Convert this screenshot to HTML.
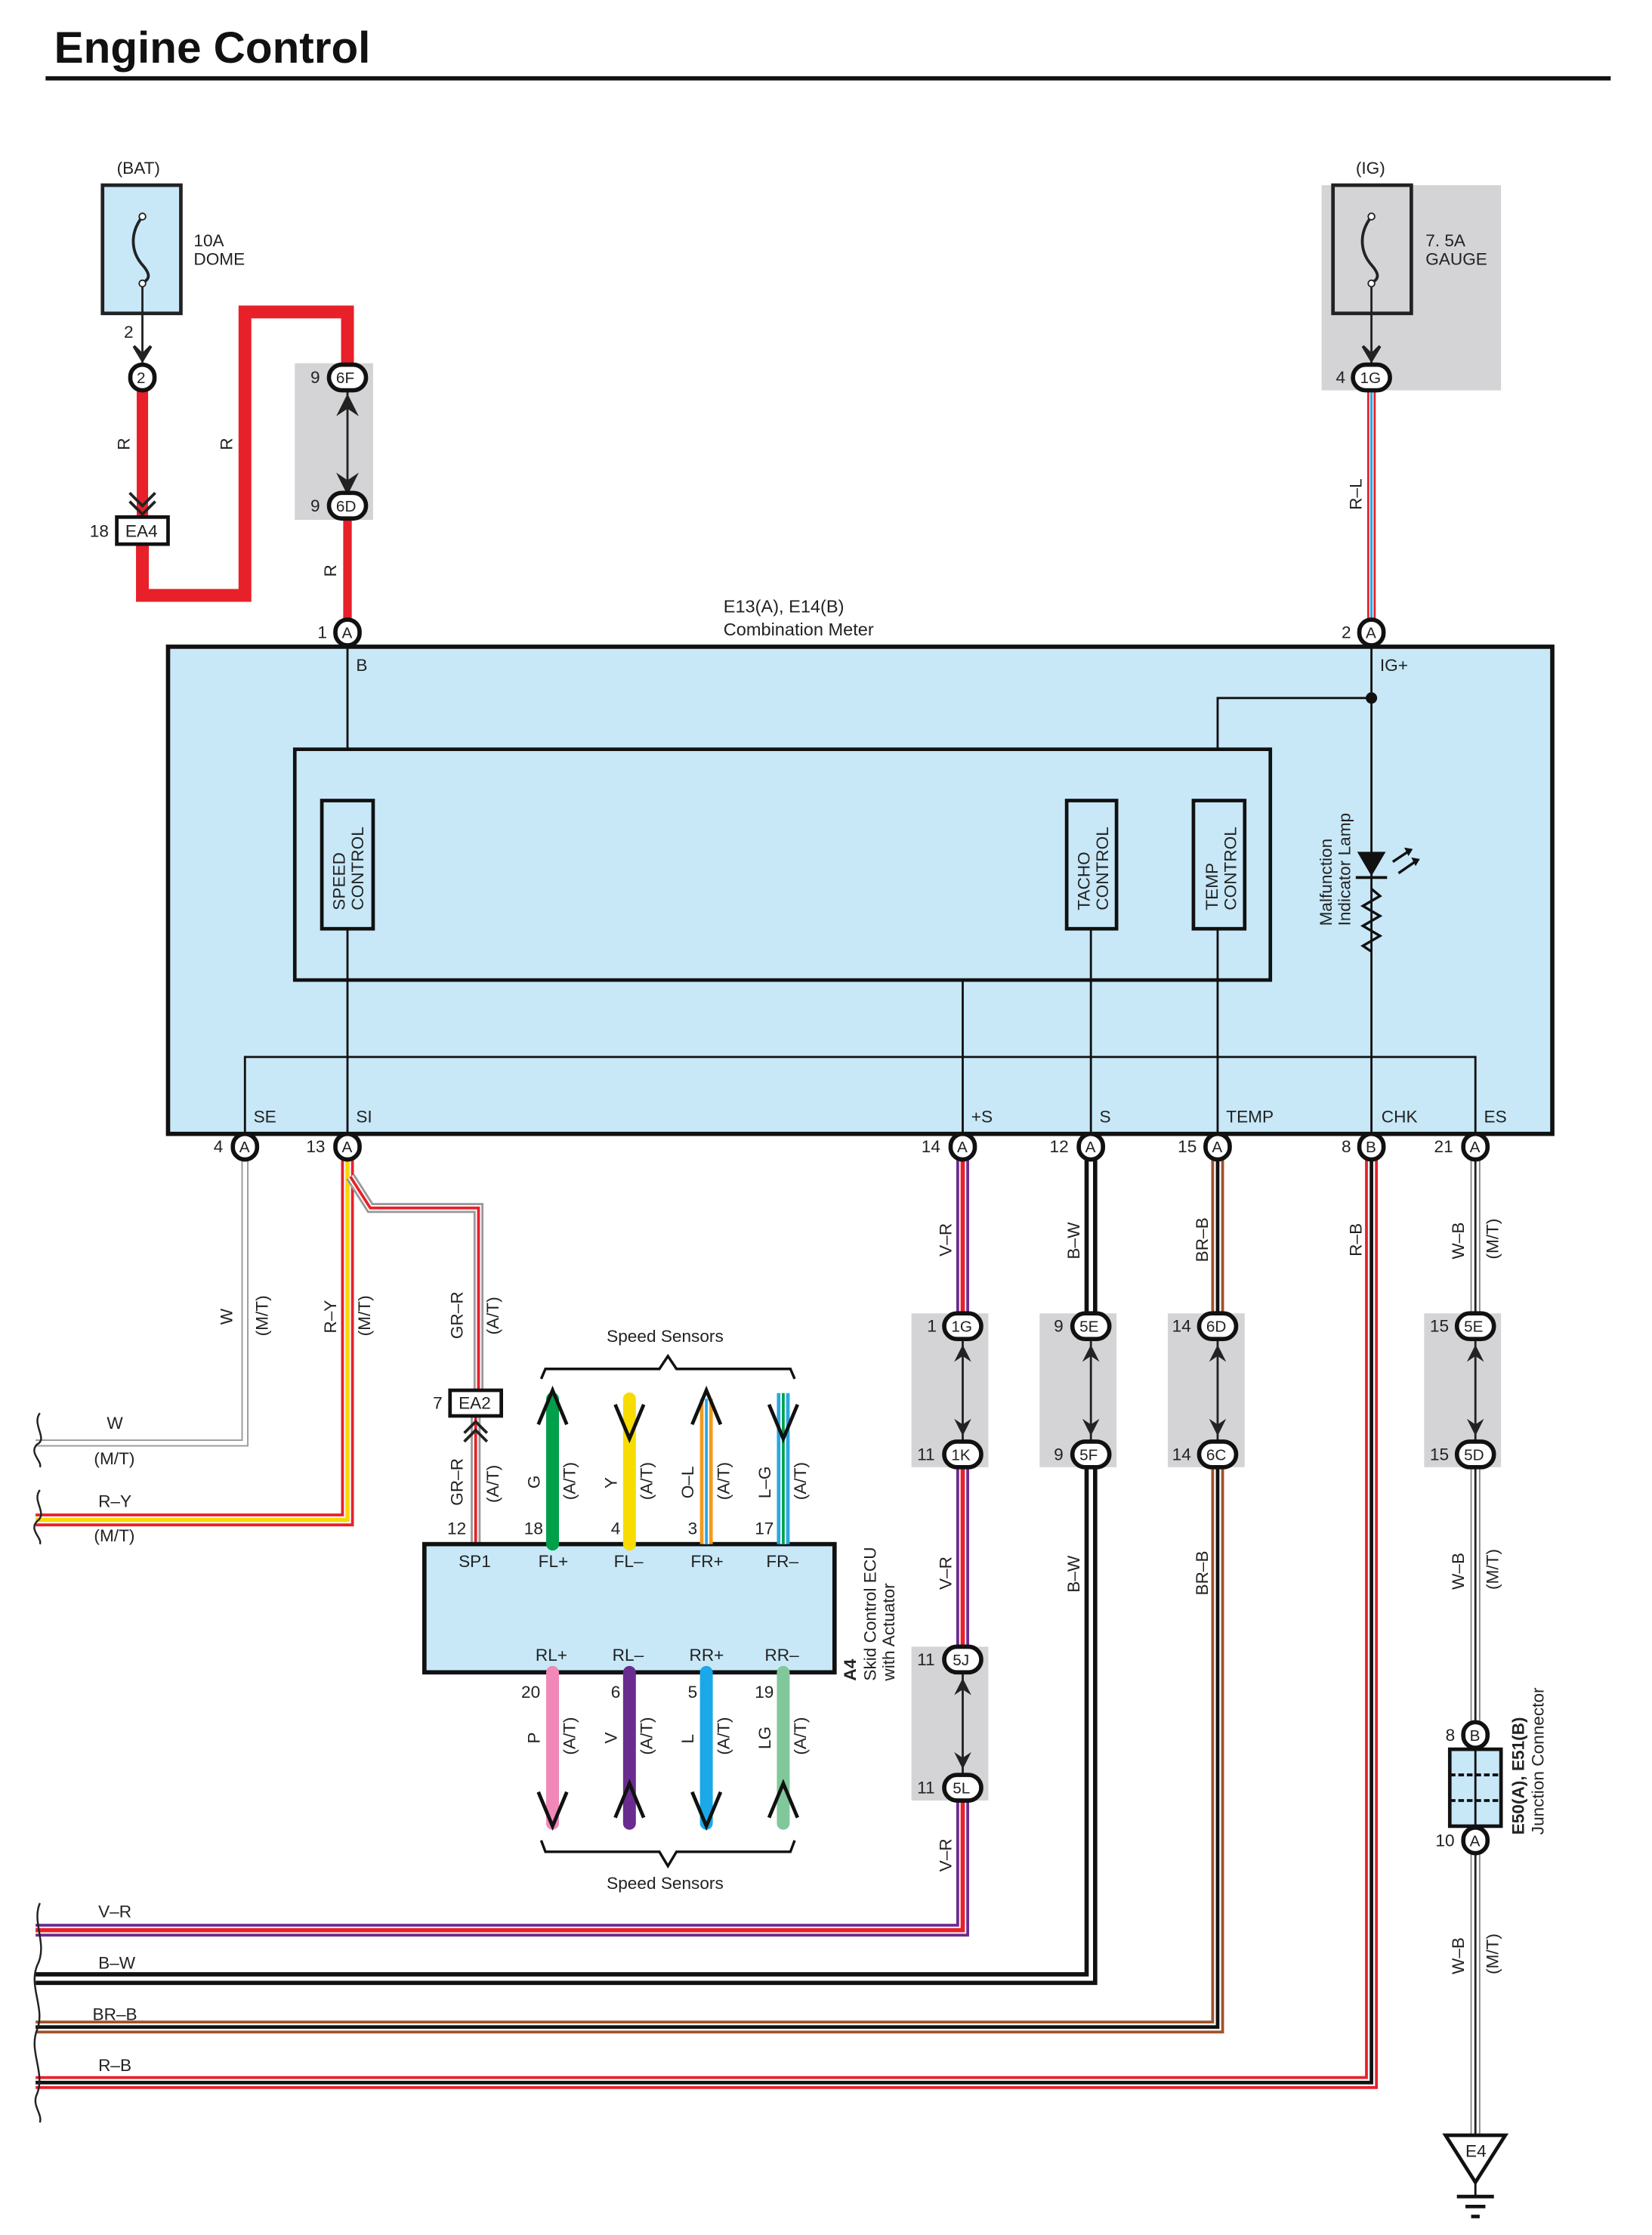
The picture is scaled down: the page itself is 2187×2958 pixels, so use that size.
<!DOCTYPE html>
<html><head><meta charset="utf-8"><style>
html,body{margin:0;padding:0;background:#fff}
svg{display:block}
text{font-family:"Liberation Sans Narrow","Liberation Sans",sans-serif;font-size:12px;fill:#222}
.t{font-family:"Liberation Sans",sans-serif}
</style></head><body>
<svg width="2187" height="2958" viewBox="0 0 1160 1569" preserveAspectRatio="none" xmlns="http://www.w3.org/2000/svg">
<defs>
<g id="pin"><rect x="-8.5" y="-9" width="17" height="18" rx="8.5" fill="#fff" stroke="#111" stroke-width="3"/></g>
<g id="pin2"><rect x="-13" y="-9" width="26" height="18" rx="9" fill="#fff" stroke="#111" stroke-width="3"/></g>
</defs>
<!-- Title -->
<text x="38" y="44" style="font-family:'Liberation Sans',sans-serif;font-size:31px;font-weight:bold;fill:#111">Engine Control</text>
<rect x="32" y="53.5" width="1099" height="3" fill="#111"/>

<!-- gray shaded areas -->
<rect x="207" y="255" width="55" height="110" fill="#d4d4d6"/>
<rect x="928" y="130" width="126" height="144" fill="#d4d4d6"/>

<!-- BAT fuse -->
<text x="82" y="122">(BAT)</text>
<rect x="72" y="130" width="55" height="90" fill="#c8e8f8" stroke="#222" stroke-width="2.5"/>
<path d="M100 152 C90 165 93 178 100 186 C107 194 104 196 100 199" fill="none" stroke="#222" stroke-width="2"/>
<circle cx="100" cy="152" r="2.3" fill="#fff" stroke="#222"/><circle cx="100" cy="199" r="2.3" fill="#fff" stroke="#222"/>
<line x1="100" y1="201" x2="100" y2="255" stroke="#222" stroke-width="1.5"/>
<path d="M94 243 L100 253 L106 243 L100 249Z" fill="#222" stroke="#222" stroke-width="2"/>
<text x="136" y="173">10A</text><text x="136" y="186">DOME</text>
<text x="87" y="237">2</text>

<!-- IG fuse -->
<text x="952" y="122">(IG)</text>
<rect x="936" y="130" width="55" height="90" fill="#d4d4d6" stroke="#222" stroke-width="2.5"/>
<path d="M963 152 C953 165 956 178 963 186 C970 194 967 196 963 199" fill="none" stroke="#222" stroke-width="2"/>
<circle cx="963" cy="152" r="2.3" fill="#fff" stroke="#222"/><circle cx="963" cy="199" r="2.3" fill="#fff" stroke="#222"/>
<line x1="963" y1="201" x2="963" y2="255" stroke="#222" stroke-width="1.5"/>
<path d="M957 243 L963 253 L969 243 L963 249Z" fill="#222" stroke="#222" stroke-width="2"/>
<text x="1001" y="173">7. 5A</text><text x="1001" y="186">GAUGE</text>

<!-- red BAT wires -->
<path d="M100 274 V365" stroke="#e8202a" stroke-width="8" fill="none"/>
<path d="M91 346 L100 355 L109 346 M91 352 L100 361 L109 352" stroke="#222" stroke-width="2" fill="none"/>
<path d="M100 382 V418 H172 V219 H244 V256" stroke="#e8202a" stroke-width="9" fill="none" stroke-linejoin="miter"/>
<text transform="translate(91,316) rotate(-90)">R</text>
<text transform="translate(163,316) rotate(-90)">R</text>
<rect x="82" y="363" width="36" height="19" fill="#fff" stroke="#111" stroke-width="2.5"/>
<text x="88" y="377">EA4</text><text x="63" y="377">18</text>
<line x1="244" y1="274" x2="244" y2="346" stroke="#222" stroke-width="1.5"/>
<path d="M238 290 L244 278 L250 290 L244 286Z M238 334 L244 346 L250 334 L244 338Z" fill="#222" stroke="#222" stroke-width="1.5"/>
<path d="M244 364 V436" stroke="#e8202a" stroke-width="6" fill="none"/>
<text transform="translate(236,405) rotate(-90)">R</text>
<use href="#pin" x="100" y="265"/><text x="96" y="269" style="font-size:11px">2</text>
<use href="#pin2" x="244" y="265"/><text x="236" y="269" style="font-size:11px">6F</text><text x="218" y="269">9</text>
<use href="#pin2" x="244" y="355"/><text x="236" y="359" style="font-size:11px">6D</text><text x="218" y="359">9</text>

<!-- R-L wire -->
<path d="M963 274 V436" stroke="#e8202a" stroke-width="6" fill="none"/>
<path d="M963 274 V436" stroke="#fff" stroke-width="3" fill="none"/>
<path d="M963 274 V436" stroke="#29a8e0" stroke-width="1.6" fill="none"/>
<text transform="translate(956,358) rotate(-90)">R–L</text>
<use href="#pin2" x="963" y="265"/><text x="955" y="269" style="font-size:11px">1G</text><text x="938" y="269">4</text>

<!-- Combination meter -->
<text x="508" y="430" style="font-size:12.5px">E13(A), E14(B)</text>
<text x="508" y="446" style="font-size:12.5px">Combination Meter</text>
<rect x="118" y="454" width="972" height="342" fill="#c8e8f8" stroke="#111" stroke-width="3"/>
<rect x="207" y="526" width="685" height="162" fill="none" stroke="#111" stroke-width="2.5"/>
<g stroke="#111" stroke-width="1.5" fill="none">
<line x1="244" y1="444" x2="244" y2="526"/>
<line x1="244" y1="652" x2="244" y2="796"/>
<line x1="963" y1="444" x2="963" y2="796"/>
<path d="M963 490 H855 V526"/>
<line x1="676" y1="688" x2="676" y2="796"/>
<line x1="766" y1="652" x2="766" y2="796"/>
<line x1="855" y1="652" x2="855" y2="796"/>
<path d="M172 796 V742 H1036 V796"/>
</g>
<circle cx="963" cy="490" r="4" fill="#111"/>
<g fill="#c8e8f8" stroke="#111" stroke-width="2.5">
<rect x="226" y="562" width="36" height="90"/>
<rect x="749" y="562" width="35" height="90"/>
<rect x="838" y="562" width="36" height="90"/>
</g>
<g class="t" style="font-size:12px">
<text class="t" transform="translate(242,639) rotate(-90)">SPEED</text>
<text class="t" transform="translate(255,639) rotate(-90)">CONTROL</text>
<text class="t" transform="translate(765,639) rotate(-90)">TACHO</text>
<text class="t" transform="translate(778,639) rotate(-90)">CONTROL</text>
<text class="t" transform="translate(855,639) rotate(-90)">TEMP</text>
<text class="t" transform="translate(868,639) rotate(-90)">CONTROL</text>
<text class="t" transform="translate(935,650) rotate(-90)">Malfunction</text>
<text class="t" transform="translate(948,650) rotate(-90)">Indicator Lamp</text>
</g>
<path d="M953 598 H973 L963 615Z" fill="#111"/>
<line x1="952" y1="616" x2="974" y2="616" stroke="#111" stroke-width="2"/>
<path d="M978 605 L990 597 M982 613 L995 604" stroke="#111" stroke-width="1.8"/>
<path d="M986 595 L992 596 L989 601Z M991 602 L997 603 L994 608Z" fill="#111"/>
<path d="M963 624 L969 629 L957 636 L969 643 L957 650 L969 657 L957 664 L963 668" fill="none" stroke="#111" stroke-width="1.8"/>
<text x="250" y="471">B</text><text x="969" y="471">IG+</text>
<text x="178" y="788">SE</text><text x="250" y="788">SI</text><text x="682" y="788">+S</text>
<text x="772" y="788">S</text><text x="861" y="788">TEMP</text><text x="970" y="788">CHK</text><text x="1042" y="788">ES</text>
<use href="#pin" x="244" y="444"/><text x="240" y="448" style="font-size:11px">A</text><text x="223" y="448">1</text>
<use href="#pin" x="963" y="444"/><text x="959" y="448" style="font-size:11px">A</text><text x="942" y="448">2</text>

<!-- W wire -->
<path d="M172 814 V1013 H25" stroke="#999" stroke-width="5" fill="none"/>
<path d="M172 814 V1013 H25" stroke="#fff" stroke-width="3" fill="none"/>
<text transform="translate(163,930) rotate(-90)">W</text><text transform="translate(188,938) rotate(-90)">(M/T)</text>
<text x="75" y="1003">W</text><text x="66" y="1028">(M/T)</text>
<!-- R-Y -->
<path d="M244 814 V1067 H25" stroke="#e8202a" stroke-width="9" fill="none"/>
<path d="M244 814 V1067 H25" stroke="#fff" stroke-width="5" fill="none"/>
<path d="M244 814 V1067 H25" stroke="#f8d800" stroke-width="3" fill="none"/>
<text transform="translate(236,936) rotate(-90)">R–Y</text><text transform="translate(260,938) rotate(-90)">(M/T)</text>
<text x="69" y="1058">R–Y</text><text x="66" y="1082">(M/T)</text>
<path d="M28 992 C22 1000 34 1010 26 1014 C20 1020 30 1026 28 1030 M28 1046 C22 1054 34 1062 26 1068 C20 1074 30 1080 28 1084" fill="none" stroke="#222" stroke-width="1.3"/>
<!-- GR-R -->
<path d="M246 826 L260 848 H336 V976" stroke="#999" stroke-width="7" fill="none"/>
<path d="M246 826 L260 848 H336 V976" stroke="#fff" stroke-width="4" fill="none"/>
<path d="M246 826 L260 848 H336 V976" stroke="#e8202a" stroke-width="2" fill="none"/>
<path d="M334 994 V1084" stroke="#999" stroke-width="7" fill="none"/>
<path d="M334 994 V1084" stroke="#fff" stroke-width="4" fill="none"/>
<path d="M334 994 V1084" stroke="#e8202a" stroke-width="2" fill="none"/>
<path d="M326 1006 L334 998 L342 1006 M326 1012 L334 1004 L342 1012" stroke="#222" stroke-width="2" fill="none"/>
<text transform="translate(325,940) rotate(-90)">GR–R</text><text transform="translate(350,937) rotate(-90)">(A/T)</text>
<rect x="316" y="976" width="36" height="18" fill="#fff" stroke="#111" stroke-width="2.5"/>
<text x="322" y="989">EA2</text><text x="304" y="989">7</text>
<text transform="translate(325,1057) rotate(-90)">GR–R</text><text transform="translate(350,1055) rotate(-90)">(A/T)</text>
<text x="314" y="1077">12</text>

<!-- ECU -->
<rect x="298" y="1084" width="288" height="90" fill="#c8e8f8" stroke="#111" stroke-width="3"/>
<text x="322" y="1100">SP1</text><text x="378" y="1100">FL+</text><text x="431" y="1100">FL–</text><text x="485" y="1100">FR+</text><text x="538" y="1100">FR–</text>
<text x="376" y="1166">RL+</text><text x="430" y="1166">RL–</text><text x="484" y="1166">RR+</text><text x="537" y="1166">RR–</text>
<text class="t" transform="translate(601,1180) rotate(-90)" style="font-size:12px;font-weight:bold">A4</text>
<text class="t" transform="translate(615,1180) rotate(-90)" style="font-size:12px">Skid Control ECU</text>
<text class="t" transform="translate(628,1180) rotate(-90)" style="font-size:12px">with Actuator</text>

<!-- sensor wires -->
<path d="M388 1084 V982" stroke="#00a04a" stroke-width="9" stroke-linecap="round" fill="none"/>
<path d="M442 1084 V982" stroke="#f8dc00" stroke-width="9" stroke-linecap="round" fill="none"/>
<path d="M496 1084 V982" stroke="#f39a1e" stroke-width="9" fill="none"/><path d="M496 1084 V982" stroke="#fff" stroke-width="4" fill="none"/><path d="M496 1084 V982" stroke="#29a8e0" stroke-width="2" fill="none"/>
<path d="M550 1084 V978" stroke="#29a8e0" stroke-width="9" fill="none"/><path d="M550 1084 V978" stroke="#fff" stroke-width="4" fill="none"/><path d="M550 1084 V978" stroke="#00a04a" stroke-width="2" fill="none"/>
<g stroke="#111" stroke-width="2.5" fill="none">
<path d="M378 1000 L388 976 L398 1000"/>
<path d="M432 986 L442 1010 L452 986"/>
<path d="M486 1000 L496 976 L506 1000"/>
<path d="M540 986 L550 1010 L560 986"/>
</g>
<path d="M388 1174 V1280" stroke="#f088b8" stroke-width="9" fill="none" stroke-linecap="round"/>
<path d="M442 1174 V1280" stroke="#6a2c90" stroke-width="9" fill="none" stroke-linecap="round"/>
<path d="M496 1174 V1280" stroke="#1aa8e8" stroke-width="9" fill="none" stroke-linecap="round"/>
<path d="M550 1174 V1280" stroke="#80c89a" stroke-width="9" fill="none" stroke-linecap="round"/>
<g stroke="#111" stroke-width="2.5" fill="none">
<path d="M378 1258 L388 1282 L398 1258"/>
<path d="M432 1276 L442 1252 L452 1276"/>
<path d="M486 1258 L496 1282 L506 1258"/>
<path d="M540 1276 L550 1252 L560 1276"/>
</g>
<path d="M380 968 L383 961 H463 L469 952 L475 961 H555 L558 968" fill="none" stroke="#111" stroke-width="1.8"/>
<path d="M380 1292 L383 1300 H463 L469 1310 L475 1300 H555 L558 1292" fill="none" stroke="#111" stroke-width="1.8"/>
<text x="426" y="942">Speed Sensors</text><text x="426" y="1326">Speed Sensors</text>
<text transform="translate(379,1045) rotate(-90)">G</text><text transform="translate(404,1053) rotate(-90)">(A/T)</text>
<text transform="translate(433,1045) rotate(-90)">Y</text><text transform="translate(458,1053) rotate(-90)">(A/T)</text>
<text transform="translate(487,1052) rotate(-90)">O–L</text><text transform="translate(512,1053) rotate(-90)">(A/T)</text>
<text transform="translate(541,1052) rotate(-90)">L–G</text><text transform="translate(566,1053) rotate(-90)">(A/T)</text>
<text x="368" y="1077">18</text><text x="429" y="1077">4</text><text x="483" y="1077">3</text><text x="530" y="1077">17</text>
<text x="366" y="1192">20</text><text x="429" y="1192">6</text><text x="483" y="1192">5</text><text x="530" y="1192">19</text>
<text transform="translate(379,1224) rotate(-90)">P</text><text transform="translate(404,1232) rotate(-90)">(A/T)</text>
<text transform="translate(433,1224) rotate(-90)">V</text><text transform="translate(458,1232) rotate(-90)">(A/T)</text>
<text transform="translate(487,1224) rotate(-90)">L</text><text transform="translate(512,1232) rotate(-90)">(A/T)</text>
<text transform="translate(541,1228) rotate(-90)">LG</text><text transform="translate(566,1232) rotate(-90)">(A/T)</text>

<!-- long wires -->
<g fill="none" stroke-linejoin="miter">
<path d="M676 814 V1355 H25" stroke="#6a2c90" stroke-width="9"/><path d="M676 814 V1355 H25" stroke="#fff" stroke-width="5"/><path d="M676 814 V1355 H25" stroke="#e8202a" stroke-width="3"/>
<path d="M766 814 V1389 H25" stroke="#111" stroke-width="9"/><path d="M766 814 V1389 H25" stroke="#fff" stroke-width="3"/>
<path d="M855 814 V1423 H25" stroke="#a0522d" stroke-width="9"/><path d="M855 814 V1423 H25" stroke="#fff" stroke-width="5"/><path d="M855 814 V1423 H25" stroke="#111" stroke-width="2.5"/>
<path d="M963 814 V1462 H25" stroke="#e8202a" stroke-width="9"/><path d="M963 814 V1462 H25" stroke="#fff" stroke-width="5"/><path d="M963 814 V1462 H25" stroke="#111" stroke-width="2.5"/>
<path d="M1036 814 V1500" stroke="#888" stroke-width="7"/><path d="M1036 814 V1500" stroke="#fff" stroke-width="5"/><path d="M1036 814 V1500" stroke="#222" stroke-width="1.5"/>
</g>
<!-- gray connector areas over wires -->
<rect x="640" y="922" width="54" height="108" fill="#d4d4d6"/>
<rect x="730" y="922" width="54" height="108" fill="#d4d4d6"/>
<rect x="820" y="922" width="54" height="108" fill="#d4d4d6"/>
<rect x="1000" y="922" width="54" height="108" fill="#d4d4d6"/>
<rect x="640" y="1156" width="54" height="108" fill="#d4d4d6"/>
<path d="M28 1336 C22 1350 34 1365 26 1380 C20 1395 32 1410 26 1425 C20 1440 32 1455 26 1470 C22 1478 30 1484 28 1490" fill="none" stroke="#222" stroke-width="1.3"/>
<text x="69" y="1346">V–R</text><text x="69" y="1382">B–W</text><text x="65" y="1418">BR–B</text><text x="69" y="1454">R–B</text>
<g stroke="#222" stroke-width="1.5">
<line x1="676" y1="940" x2="676" y2="1012"/><line x1="766" y1="940" x2="766" y2="1012"/><line x1="855" y1="940" x2="855" y2="1012"/><line x1="1036" y1="940" x2="1036" y2="1012"/><line x1="676" y1="1174" x2="676" y2="1246"/>
</g>
<g fill="#222">
<path d="M670 956 L676 944 L682 956 L676 952Z M670 996 L676 1008 L682 996 L676 1000Z"/>
<path d="M760 956 L766 944 L772 956 L766 952Z M760 996 L766 1008 L772 996 L766 1000Z"/>
<path d="M849 956 L855 944 L861 956 L855 952Z M849 996 L855 1008 L861 996 L855 1000Z"/>
<path d="M1030 956 L1036 944 L1042 956 L1036 952Z M1030 996 L1036 1008 L1042 996 L1036 1000Z"/>
<path d="M670 1190 L676 1178 L682 1190 L676 1186Z M670 1230 L676 1242 L682 1230 L676 1234Z"/>
</g>
<use href="#pin2" x="676" y="931"/><text x="668" y="935" style="font-size:11px">1G</text><text x="651" y="935">1</text>
<use href="#pin2" x="676" y="1021"/><text x="668" y="1025" style="font-size:11px">1K</text><text x="644" y="1025">11</text>
<use href="#pin2" x="676" y="1165"/><text x="669" y="1169" style="font-size:11px">5J</text><text x="644" y="1169">11</text>
<use href="#pin2" x="676" y="1255"/><text x="669" y="1259" style="font-size:11px">5L</text><text x="644" y="1259">11</text>
<use href="#pin2" x="766" y="931"/><text x="758" y="935" style="font-size:11px">5E</text><text x="740" y="935">9</text>
<use href="#pin2" x="766" y="1021"/><text x="758" y="1025" style="font-size:11px">5F</text><text x="740" y="1025">9</text>
<use href="#pin2" x="855" y="931"/><text x="847" y="935" style="font-size:11px">6D</text><text x="823" y="935">14</text>
<use href="#pin2" x="855" y="1021"/><text x="847" y="1025" style="font-size:11px">6C</text><text x="823" y="1025">14</text>
<use href="#pin2" x="1036" y="931"/><text x="1028" y="935" style="font-size:11px">5E</text><text x="1004" y="935">15</text>
<use href="#pin2" x="1036" y="1021"/><text x="1028" y="1025" style="font-size:11px">5D</text><text x="1004" y="1025">15</text>
<text transform="translate(668,882) rotate(-90)">V–R</text><text transform="translate(668,1116) rotate(-90)">V–R</text><text transform="translate(668,1314) rotate(-90)">V–R</text>
<text transform="translate(758,884) rotate(-90)">B–W</text><text transform="translate(758,1118) rotate(-90)">B–W</text>
<text transform="translate(848,886) rotate(-90)">BR–B</text><text transform="translate(848,1120) rotate(-90)">BR–B</text>
<text transform="translate(956,882) rotate(-90)">R–B</text>
<text transform="translate(1028,884) rotate(-90)">W–B</text><text transform="translate(1052,884) rotate(-90)">(M/T)</text>
<text transform="translate(1028,1116) rotate(-90)">W–B</text><text transform="translate(1052,1116) rotate(-90)">(M/T)</text>
<text transform="translate(1028,1386) rotate(-90)">W–B</text><text transform="translate(1052,1386) rotate(-90)">(M/T)</text>

<!-- bottom meter pins -->
<use href="#pin" x="172" y="805"/><text x="168" y="809" style="font-size:11px">A</text><text x="150" y="809">4</text>
<use href="#pin" x="244" y="805"/><text x="240" y="809" style="font-size:11px">A</text><text x="215" y="809">13</text>
<use href="#pin" x="676" y="805"/><text x="672" y="809" style="font-size:11px">A</text><text x="647" y="809">14</text>
<use href="#pin" x="766" y="805"/><text x="762" y="809" style="font-size:11px">A</text><text x="737" y="809">12</text>
<use href="#pin" x="855" y="805"/><text x="851" y="809" style="font-size:11px">A</text><text x="827" y="809">15</text>
<use href="#pin" x="963" y="805"/><text x="959" y="809" style="font-size:11px">B</text><text x="942" y="809">8</text>
<use href="#pin" x="1036" y="805"/><text x="1032" y="809" style="font-size:11px">A</text><text x="1007" y="809">21</text>

<!-- junction connector -->
<rect x="1018" y="1228" width="36" height="54" fill="#c8e8f8" stroke="#111" stroke-width="2.5"/>
<line x1="1036" y1="1228" x2="1036" y2="1282" stroke="#111" stroke-width="1.5"/>
<line x1="1018" y1="1246" x2="1054" y2="1246" stroke="#111" stroke-width="2" stroke-dasharray="4 2"/>
<line x1="1018" y1="1264" x2="1054" y2="1264" stroke="#111" stroke-width="2" stroke-dasharray="4 2"/>
<use href="#pin" x="1036" y="1218"/><text x="1032" y="1222" style="font-size:11px">B</text><text x="1015" y="1222">8</text>
<use href="#pin" x="1036" y="1292"/><text x="1032" y="1296" style="font-size:11px">A</text><text x="1008" y="1296">10</text>
<text class="t" transform="translate(1070,1288) rotate(-90)" style="font-size:12px;font-weight:bold">E50(A), E51(B)</text>
<text class="t" transform="translate(1084,1288) rotate(-90)" style="font-size:12px">Junction Connector</text>
<!-- ground -->
<path d="M1015 1499 H1057 L1036 1532Z" fill="#fff" stroke="#111" stroke-width="2.5"/>
<text x="1029" y="1514">E4</text>
<line x1="1036" y1="1532" x2="1036" y2="1541" stroke="#111" stroke-width="1.5"/>
<line x1="1023" y1="1542" x2="1049" y2="1542" stroke="#111" stroke-width="2.5"/>
<line x1="1029" y1="1549" x2="1043" y2="1549" stroke="#111" stroke-width="2.5"/>
<line x1="1033" y1="1556" x2="1039" y2="1556" stroke="#111" stroke-width="2.5"/>
</svg>
</body></html>
